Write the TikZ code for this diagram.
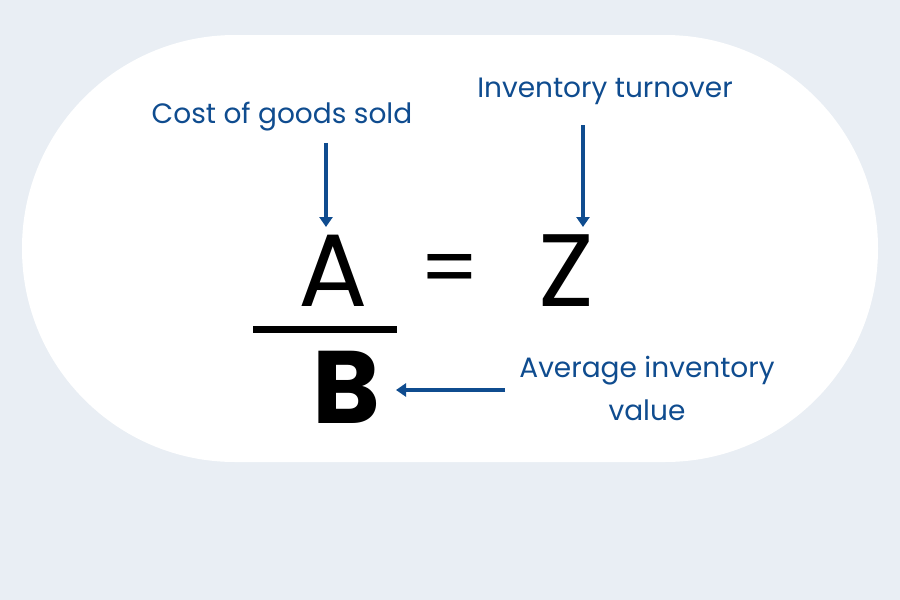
\documentclass[tikz,border=0pt]{standalone}
\usepackage{fontspec}
\setmainfont{Poppins}
\usepackage{xcolor}
\usetikzlibrary{positioning,calc,arrows.meta}

\definecolor{pagebg}{HTML}{E9EEF4}
\definecolor{labelblue}{HTML}{0F4C8F}

\tikzset{
    textlabel/.style={text=labelblue, inner sep=0pt, font=\fontsize{28}{43}\selectfont},
    bigletter/.style={inner sep=0pt, font=\fontsize{103}{110}\selectfont},
    pointer/.style={draw=labelblue, line width=3.5pt, -{Triangle[width=13pt,length=10pt]}}
}

\begin{document}
\begin{tikzpicture}[x=1pt, y=-1pt]
    % Background and white panel
    \fill[pagebg] (0,0) rectangle (900,600);
    \useasboundingbox (0,0) rectangle (900,600);
    \fill[white, rounded corners=213pt] (22,35) rectangle (878,462);

    % Formula
    \node[bigletter] (A) at (333,271) {A};
    \node[bigletter, font=\fontsize{84}{90}\selectfont] (eq) at (450,276) {=};
    \node[bigletter] (Z) at (566,271) {Z};
    \draw[line width=7pt] (253,329) -- (397,329);
    \node[bigletter, font=\fontsize{103}{110}\selectfont\bfseries] (B) at (346,387) {B};

    % Labels
    \node[textlabel, anchor=base] (cogs) at (282,123) {Cost of goods sold};
    \node[textlabel, anchor=base] (turn) at (605,97) {Inventory turnover};
    \node[textlabel, anchor=base, align=center] (avg) at (647,420) {Average inventory\\value};

    % Pointers
    \coordinate (tipA) at (326,227);
    \coordinate (tipZ) at (583,227);
    \coordinate (tipB) at (396,390);
    \draw[pointer, shorten <=12pt] (cogs.south -| tipA) -- (tipA);
    \draw[pointer, shorten <=21pt] (turn.south -| tipZ) -- (tipZ);
    \draw[pointer, shorten <=14pt] (avg.west |- tipB) -- (tipB);
\end{tikzpicture}
\end{document}
